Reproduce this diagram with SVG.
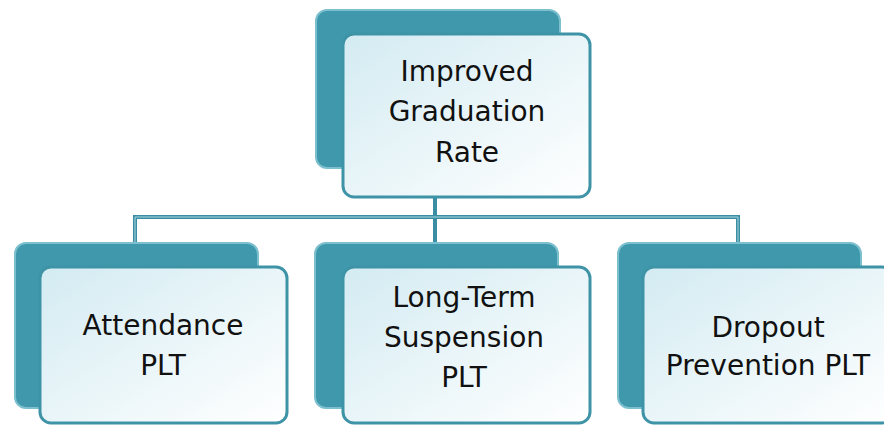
<svg xmlns="http://www.w3.org/2000/svg" width="884" height="425" viewBox="0 0 884 425">
<defs>
<linearGradient id="fg" x1="0" y1="0" x2="1" y2="1">
<stop offset="0" stop-color="#d3ebf2"/>
<stop offset="1" stop-color="#ffffff"/>
</linearGradient>
<style>
.back{fill:#3f98ab;stroke:#7cc0cf;stroke-width:2}
.front{fill:url(#fg);stroke:#3f93a7;stroke-width:3}
.conn{fill:none;stroke:#3a8ea3;stroke-width:4}
.conn2{fill:none;stroke:#a9d6e0;stroke-width:1}
text{font-family:"DejaVu Sans","Liberation Sans",sans-serif;font-size:28px;fill:#111;text-anchor:middle}
</style>
</defs>
<rect width="884" height="425" fill="#ffffff"/>
<g id="connectors">
<path class="conn" d="M435 197 V243 M135 243 V217 H738 V243"/>
<path class="conn2" d="M135 243 V217 H738 V243"/>
</g>
<g id="top">
<rect class="back" x="316" y="10" width="244" height="158" rx="11"/>
<rect class="front" x="343" y="34" width="247" height="163" rx="11"/>
<text x="467" y="81">Improved</text>
<text x="467" y="121">Graduation</text>
<text x="467" y="162">Rate</text>
</g>
<g id="attendance">
<rect class="back" x="15" y="243" width="243" height="165" rx="11"/>
<rect class="front" x="40" y="267" width="247" height="156" rx="11"/>
<text x="163" y="335">Attendance</text>
<text x="163" y="375">PLT</text>
</g>
<g id="suspension">
<rect class="back" x="315" y="243" width="243" height="165" rx="11"/>
<rect class="front" x="343" y="267" width="247" height="156" rx="11"/>
<text x="464" y="307">Long-Term</text>
<text x="464" y="347">Suspension</text>
<text x="464" y="387">PLT</text>
</g>
<g id="dropout">
<rect class="back" x="618" y="243" width="243" height="165" rx="11"/>
<rect class="front" x="643" y="267" width="250" height="156" rx="11"/>
<text x="768" y="337">Dropout</text>
<text x="768" y="375">Prevention PLT</text>
</g>
</svg>
